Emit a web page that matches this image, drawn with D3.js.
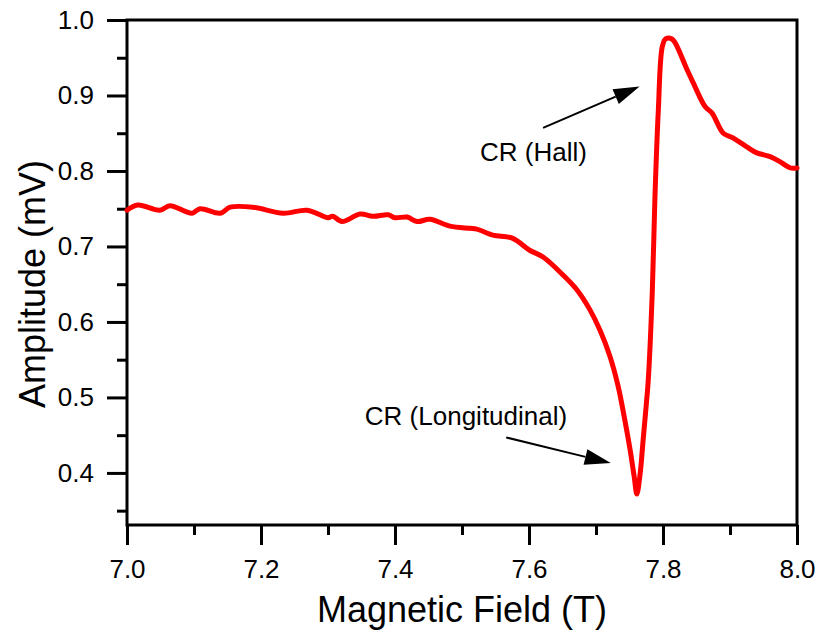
<!DOCTYPE html>
<html><head><meta charset="utf-8">
<script src="https://cdn.jsdelivr.net/npm/d3@7"></script>
<style>
html,body{margin:0;padding:0;background:#fff;}
svg text{font-family:"Liberation Sans",Arial,sans-serif;fill:#000;}
</style></head>
<body><svg id="chart" width="820" height="631"></svg>
<script>
const fieldT = [7.000,7.016,7.049,7.064,7.097,7.109,7.139,7.154,7.188,7.233,7.269,7.300,7.307,7.321,7.348,7.367,7.390,7.400,7.418,7.433,7.452,7.482,7.512,7.522,7.546,7.575,7.601,7.621,7.651,7.672,7.691,7.706,7.721,7.733,7.743,7.751,7.757,7.761,7.766,7.770,7.774,7.778,7.784,7.788,7.793,7.799,7.804,7.813,7.818,7.836,7.845,7.863,7.873,7.890,7.904,7.925,7.940,7.960,7.975,7.990,8.000];
const amplitudeMV = [0.748,0.755,0.748,0.754,0.744,0.750,0.744,0.752,0.752,0.744,0.748,0.738,0.740,0.733,0.743,0.740,0.742,0.738,0.739,0.733,0.736,0.727,0.724,0.723,0.715,0.711,0.695,0.686,0.662,0.642,0.616,0.589,0.554,0.515,0.470,0.430,0.395,0.372,0.400,0.440,0.480,0.523,0.640,0.766,0.880,0.965,0.975,0.975,0.970,0.934,0.917,0.885,0.877,0.850,0.844,0.832,0.824,0.819,0.812,0.804,0.804];
const xMajorTicks = [7.0,7.2,7.4,7.6,7.8,8.0];
const xMinorTicks = [7.1,7.3,7.5,7.7,7.9];
const yMajorTicks = [0.4,0.5,0.6,0.7,0.8,0.9,1.0];
const yMinorTicks = [0.35,0.45,0.55,0.65,0.75,0.85,0.95];
const annotationLabels = ["CR (Longitudinal)","CR (Hall)"];
const annotationTextPos = [[7.355,0.4636],[7.527,0.813]];
const arrowStart = [[7.566,0.447],[7.621,0.857]];
const arrowTip = [[7.722,0.413],[7.765,0.912]];

const svg = d3.select("#chart");
const L=127,R=797,T=20,B=525;
const x = d3.scaleLinear().domain([7,8]).range([L,R]);
const y = d3.scaleLinear().domain([0.331,1.0]).range([B,T]);

const gx = svg.append("g").attr("transform",`translate(0,${B})`);
gx.call(d3.axisBottom(x).tickValues(xMinorTicks).tickSize(10).tickFormat(""));
const gxM = svg.append("g").attr("transform",`translate(0,${B})`);
gxM.call(d3.axisBottom(x).tickValues(xMajorTicks).tickSize(20).tickPadding(15).tickFormat(d3.format(".1f")));
const gy = svg.append("g").attr("transform",`translate(${L},0)`);
gy.call(d3.axisLeft(y).tickValues(yMinorTicks).tickSize(10).tickFormat(""));
const gyM = svg.append("g").attr("transform",`translate(${L},0)`);
gyM.call(d3.axisLeft(y).tickValues(yMajorTicks).tickSize(20).tickPadding(13).tickFormat(d3.format(".1f")));
[gx,gxM,gy,gyM].forEach(g=>{
  g.select(".domain").remove();
  g.selectAll(".tick line").attr("stroke","#000").attr("stroke-width",3);
});
gxM.selectAll(".tick text").style("font-size","26px").attr("fill","#000");
gyM.selectAll(".tick text").style("font-size","26px").attr("fill","#000");

svg.append("rect").attr("x",L).attr("y",T).attr("width",R-L).attr("height",B-T)
  .attr("fill","none").attr("stroke","#000").attr("stroke-width",3);

const pts = fieldT.map((v,i)=>[v,amplitudeMV[i]]);
svg.append("path").datum(pts)
  .attr("d", d3.line().x(d=>x(d[0])).y(d=>y(d[1])).curve(d3.curveCatmullRom.alpha(0.5)))
  .attr("fill","none").attr("stroke","#ff0000").attr("stroke-width",5)
  .attr("stroke-linejoin","round").attr("stroke-linecap","round");

annotationLabels.forEach((t,i)=>{
  svg.append("text").attr("x",x(annotationTextPos[i][0])).attr("y",y(annotationTextPos[i][1]))
    .style("font-size","26px").text(t);
  const x0=x(arrowStart[i][0]), y0=y(arrowStart[i][1]);
  const x1=x(arrowTip[i][0]), y1=y(arrowTip[i][1]);
  const ang=Math.atan2(y1-y0,x1-x0), len=26, hw=8;
  const bx=x1-len*Math.cos(ang), by=y1-len*Math.sin(ang);
  svg.append("line").attr("x1",x0).attr("y1",y0).attr("x2",bx).attr("y2",by)
    .attr("stroke","#000").attr("stroke-width",2);
  const px=-Math.sin(ang), py=Math.cos(ang);
  svg.append("polygon").attr("points",
    [[x1,y1],[bx+px*hw,by+py*hw],[bx-px*hw,by-py*hw]].map(p=>p.join(",")).join(" "))
    .attr("fill","#000");
});

svg.append("text").attr("x",(L+R)/2).attr("y",622).attr("text-anchor","middle")
  .style("font-size","36px").text("Magnetic Field (T)");
svg.append("text").attr("transform","translate(45,284) rotate(-90)").attr("text-anchor","middle")
  .style("font-size","36px").text("Amplitude (mV)");
</script></body></html>
